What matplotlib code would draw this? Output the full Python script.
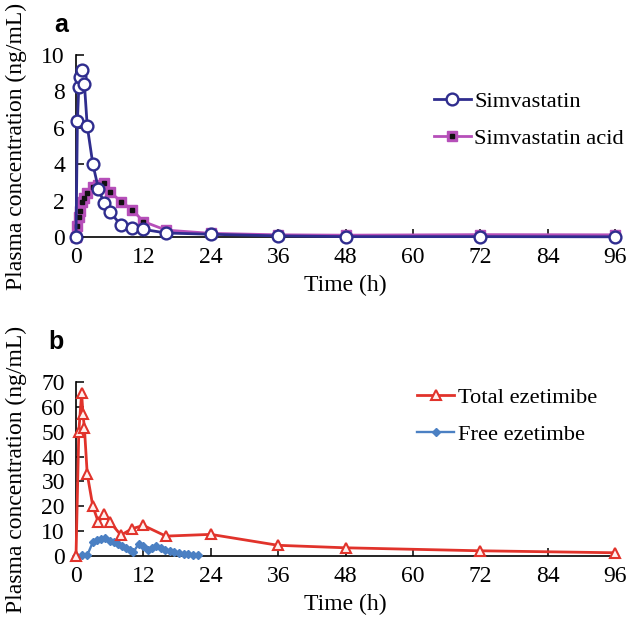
import matplotlib
matplotlib.use("Agg")
import matplotlib.pyplot as plt
from matplotlib.legend_handler import HandlerTuple

plt.rcParams["font.family"] = ["Liberation Serif", "DejaVu Serif"]
plt.rcParams["font.size"] = 17

# panel a: simvastatin
t_sim = [0, 0.25, 0.5, 0.75, 1, 1.5, 2, 3, 4, 5, 6, 8, 10, 12, 16, 24, 36, 48, 72, 96]
c_sim = [0, 6.35, 8.25, 8.8, 9.2, 8.4, 6.1, 4.0, 2.65, 1.85, 1.4, 0.65, 0.5, 0.42,
         0.22, 0.15, 0.06, 0.02, 0.02, 0.01]
c_acid = [0, 0.6, 1.1, 1.45, 1.9, 2.15, 2.4, 2.75, 2.85, 2.95, 2.5, 1.95, 1.5, 0.85,
          0.38, 0.2, 0.12, 0.1, 0.13, 0.12]

# panel b: ezetimibe
t_tot = [0, 0.5, 1, 1.25, 1.5, 2, 3, 4, 5, 6, 8, 10, 12, 16, 24, 36, 48, 72, 96]
c_tot = [0, 50, 65.5, 57, 51.5, 33, 20, 13.5, 16.8, 13.8, 8.4, 11, 12.3, 8.0, 8.7,
         4.3, 3.3, 2.1, 1.3]
t_free = [0, 1, 2, 3, 3.7, 4.5, 5.2, 6, 6.7, 7.4, 8.2, 8.9, 9.7, 10.2, 11.2, 12,
          12.8, 13.5, 14.3, 15.1, 15.9, 16.7, 17.5, 18.3, 19.2, 20, 20.9, 21.7]
c_free = [0, 0.3, 0.3, 5.6, 6.3, 6.8, 7.2, 6.2, 5.5, 4.9, 4.2, 3.4, 2.6, 1.5, 5.0,
          4.2, 2.6, 3.4, 4.2, 3.4, 2.6, 2.1, 1.7, 1.3, 0.9, 0.7, 0.5, 0.4]

x_ticks = [0, 12, 24, 36, 48, 60, 72, 84, 96]

W, H = 629, 619
fig = plt.figure(figsize=(W / 100, H / 100), dpi=100)


def box(l, t, r, b):
    return [l / W, 1 - b / H, (r - l) / W, (b - t) / H]


ax1 = fig.add_axes(box(76, 55, 615, 237))
ax2 = fig.add_axes(box(76, 382, 615, 556))

for ax in (ax1, ax2):
    ax.spines["top"].set_visible(False)
    ax.spines["right"].set_visible(False)
    ax.spines["left"].set_linewidth(1.2)
    ax.spines["bottom"].set_linewidth(1.2)
    ax.tick_params(direction="in", length=6, width=1.1, labelsize=17)
    ax.tick_params(axis="x", pad=7)
    ax.tick_params(axis="y", pad=8)
    ax.set_xlim(0, 96)
    ax.set_xticks(x_ticks)
    ax.set_xlabel("Time (h)", fontsize=17, labelpad=5)
    ax.set_ylabel("Plasma concentration (ng/mL)", fontsize=17)
    ax.yaxis.set_label_coords(-0.09, 0.5)

# --- panel a
navy = "#2f2d8e"
mag = "#b64fb9"
l1, = ax1.plot(t_sim, c_sim, color=navy, lw=2, marker="o", ms=8.5,
               mfc="white", mec=navy, mew=1.7, clip_on=False, zorder=4)
l2, = ax1.plot(t_sim, c_acid, color=mag, lw=2, marker="s", ms=6.5,
               mfc=mag, mec=mag, clip_on=False, zorder=3)
l3, = ax1.plot(t_sim, c_acid, ls="none", marker="s", ms=2.2, mfc="#111111",
               mec="#111111", clip_on=False, zorder=3.5)
ax1.set_ylim(0, 10)
ax1.set_yticks([0, 2, 4, 6, 8, 10])
ax1.legend([l1, (l2, l3)], ["Simvastatin", "Simvastatin acid"],
           handler_map={tuple: HandlerTuple(ndivide=1)},
           loc="center left", bbox_to_anchor=(0.664, 0.643), frameon=False,
           borderpad=0, borderaxespad=0, handlelength=1.65, handletextpad=0.15,
           labelspacing=0.7, fontsize=16.2)

# --- panel b
red = "#e1332b"
blue = "#4b80c3"
ax2.plot(t_tot, c_tot, color=red, lw=2, marker="^", ms=7, mfc="#fff0ee",
         mec=red, mew=1.5, clip_on=False, zorder=4, label="Total ezetimibe")
ax2.plot(t_free, c_free, color=blue, lw=1.7, marker="D", ms=4.5, mfc=blue,
         mec=blue, clip_on=False, zorder=3, label="Free ezetimbe")
ax2.set_ylim(0, 70)
ax2.set_yticks([0, 10, 20, 30, 40, 50, 60, 70])
ax2.legend(loc="center left", bbox_to_anchor=(0.633, 0.805), frameon=False,
           borderpad=0, borderaxespad=0, handlelength=1.65, handletextpad=0.15,
           labelspacing=0.7, fontsize=16.2)

fig.text(54 / W, 1 - 25 / H, "a", fontsize=18, fontweight="bold",
         family="Liberation Sans", va="center", ha="left")
fig.text(48 / W, 1 - 342 / H, "b", fontsize=18, fontweight="bold",
         family="Liberation Sans", va="center", ha="left")

fig.savefig("out.png", dpi=100)
